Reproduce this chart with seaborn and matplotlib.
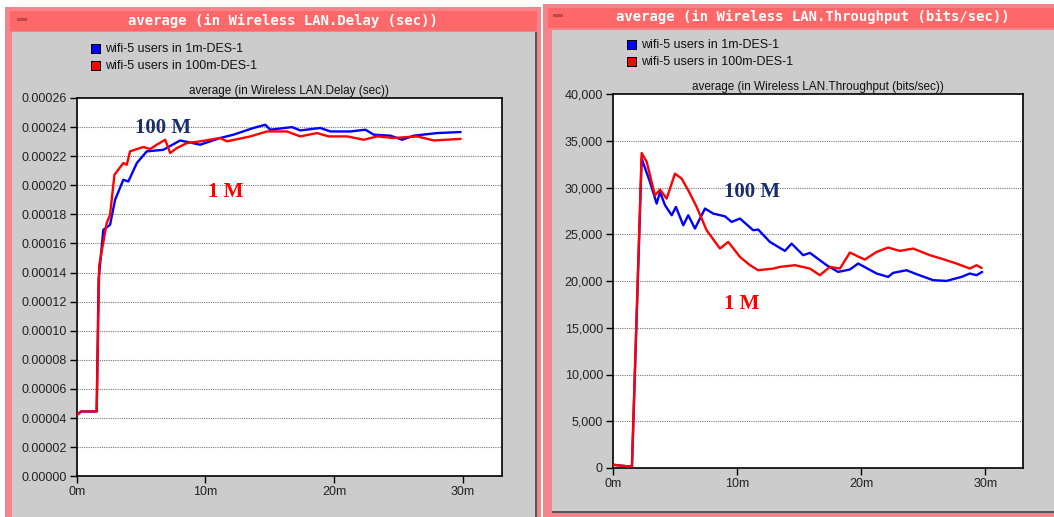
import numpy as np
import pandas as pd
import matplotlib
matplotlib.use("Agg")
import matplotlib.pyplot as plt
from matplotlib.patches import Rectangle
from matplotlib.ticker import FuncFormatter
import seaborn as sns

sns.set_theme(style="white")
plt.rcParams['font.family'] = ['Liberation Sans', 'DejaVu Sans']

# ---- data (time in minutes) ----
series_names = ["wifi-5 users in 1m-DES-1", "wifi-5 users in 100m-DES-1"]

delay_1m_t = [0, 0.35, 1.55, 1.7, 2.07, 2.59, 2.98, 3.62, 4.01, 4.67, 5.44, 6.73, 8.03,
              9.59, 11.14, 12.18, 13.73, 14.64, 15.03, 16.72, 17.36, 18.92, 19.70, 21.25,
              22.42, 23.06, 24.36, 25.27, 26.17, 27.99, 29.81]
delay_1m = [4.2e-5, 4.45e-5, 4.45e-5, 1.35e-4, 1.694e-4, 1.728e-4, 1.900e-4, 2.038e-4,
            2.026e-4, 2.153e-4, 2.233e-4, 2.244e-4, 2.308e-4, 2.279e-4, 2.325e-4, 2.348e-4,
            2.394e-4, 2.416e-4, 2.382e-4, 2.400e-4, 2.377e-4, 2.394e-4, 2.370e-4, 2.370e-4,
            2.382e-4, 2.348e-4, 2.341e-4, 2.313e-4, 2.341e-4, 2.359e-4, 2.366e-4]

delay_100m_t = [0, 0.35, 1.55, 1.75, 2.33, 2.59, 2.93, 3.62, 3.89, 4.14, 4.67, 5.18, 5.7,
                6.22, 6.87, 7.26, 7.78, 8.55, 9.59, 11.14, 11.66, 13.48, 14.77, 16.33, 17.36,
                18.66, 19.56, 21.0, 22.29, 23.33, 24.62, 26.44, 27.73, 29.81]
delay_100m = [4.2e-5, 4.45e-5, 4.45e-5, 1.45e-4, 1.740e-4, 1.797e-4, 2.072e-4, 2.153e-4,
              2.141e-4, 2.233e-4, 2.249e-4, 2.263e-4, 2.249e-4, 2.279e-4, 2.313e-4, 2.222e-4,
              2.256e-4, 2.290e-4, 2.302e-4, 2.325e-4, 2.302e-4, 2.336e-4, 2.370e-4, 2.370e-4,
              2.336e-4, 2.359e-4, 2.336e-4, 2.336e-4, 2.313e-4, 2.336e-4, 2.325e-4, 2.336e-4,
              2.308e-4, 2.319e-4]

thr_1m_t = [0, 1.4, 1.55, 2.33, 3.0, 3.54, 3.81, 4.21, 4.75, 5.09, 5.68, 6.08, 6.62, 7.43,
            8.09, 9.03, 9.57, 10.24, 11.31, 11.71, 12.65, 13.86, 14.4, 15.33, 15.87, 17.22,
            18.15, 19.09, 19.76, 21.24, 22.17, 22.57, 23.65, 24.46, 25.79, 26.87, 28.08,
            28.74, 29.28, 29.74]
thr_1m = [350, 150, 200, 33087, 30590, 28280, 29520, 28100, 27030, 27920, 25960, 27030,
          25610, 27750, 27210, 26920, 26320, 26680, 25430, 25500, 24180, 23220, 24000,
          22760, 23010, 21690, 20970, 21230, 21870, 20800, 20440, 20870, 21150, 20730,
          20090, 20010, 20440, 20800, 20620, 20970]

thr_100m_t = [0, 1.4, 1.55, 2.33, 2.74, 3.40, 3.81, 4.34, 5.01, 5.55, 6.08, 6.76, 7.56, 8.63,
              9.30, 10.24, 11.05, 11.71, 12.92, 13.46, 14.67, 15.87, 16.67, 17.48, 18.29,
              19.09, 20.29, 21.24, 22.17, 23.11, 24.18, 25.53, 26.6, 27.67, 28.74, 29.28, 29.69]
thr_100m = [350, 150, 200, 33690, 32724, 29167, 29772, 28810, 31480, 30950, 29700, 27920,
            25430, 23470, 24180, 22580, 21690, 21150, 21330, 21510, 21690, 21330, 20620,
            21510, 21330, 23040, 22290, 23110, 23580, 23220, 23470, 22760, 22330, 21870,
            21330, 21690, 21400]

delay_ticks = [i * 0.00002 for i in range(14)]
thr_ticks = [i * 5000 for i in range(9)]
time_ticks = [0, 10, 20, 30]
time_labels = ["0m", "10m", "20m", "30m"]

palette = {series_names[0]: "#0000ff", series_names[1]: "#ff0000"}

delay_df = pd.concat([
    pd.DataFrame({"t": delay_1m_t, "v": delay_1m, "s": series_names[0]}),
    pd.DataFrame({"t": delay_100m_t, "v": delay_100m, "s": series_names[1]}),
])
thr_df = pd.concat([
    pd.DataFrame({"t": thr_1m_t, "v": thr_1m, "s": series_names[0]}),
    pd.DataFrame({"t": thr_100m_t, "v": thr_100m, "s": series_names[1]}),
])

W, H = 1054, 517
fig = plt.figure(figsize=(W / 100, H / 100), dpi=100, facecolor="white")


def frac(x0, y0, x1, y1):
    return [x0 / W, 1 - y1 / H, (x1 - x0) / W, (y1 - y0) / H]


def box(x0, y0, x1, y1, color, z=-5):
    r = frac(x0, y0, x1, y1)
    fig.patches.append(Rectangle((r[0], r[1]), r[2], r[3], transform=fig.transFigure,
                                 facecolor=color, edgecolor="none", zorder=z))


# window frames
pink, bar, gray = "#f4848c", "#ff6868", "#cccccc"
box(5, 7, 541, 517, pink)
box(10, 11, 537, 31, bar)
box(12, 32, 535, 517, gray)
box(535, 32, 537, 517, "#555555")
box(543, 4, 1054, 517, pink)
box(548, 8, 1054, 28, bar)
box(552, 30, 1054, 512, gray)
box(552, 511, 1054, 513, "#555555")
# title bar buttons
box(17, 18, 27, 21, "#c04848")
box(553, 14, 563, 17, "#c04848")

fig.text(283 / W, 1 - 21 / H, "average (in Wireless LAN.Delay (sec))", color="white",
         fontsize=10, fontweight="bold", family="DejaVu Sans Mono", ha="center", va="center")
fig.text(813 / W, 1 - 17 / H, "average (in Wireless LAN.Throughput (bits/sec))", color="white",
         fontsize=10, fontweight="bold", family="DejaVu Sans Mono", ha="center", va="center")

# legends
for (sx, sy, tx) in [(92, 49, 105), (628, 45, 641)]:
    for i, name in enumerate(series_names):
        y = sy + i * 17
        box(sx - 1, y - 5, sx + 9, y + 5, "black", z=-4)
        box(sx, y - 4, sx + 8, y + 4, palette[name], z=-3)
        fig.text(tx / W, 1 - y / H, name, fontsize=9, color="#111111", va="center", ha="left")


def style_axes(ax, ticks, fmt, title):
    ax.set_zorder(5)
    ax.set_facecolor("white")
    ax.set_xlim(0, 33)
    ax.set_ylim(ticks[0], ticks[-1])
    ax.set_yticks(ticks)
    ax.yaxis.set_major_formatter(FuncFormatter(fmt))
    ax.set_xticks(time_ticks)
    ax.set_xticklabels(time_labels)
    ax.set_xlabel("")
    ax.set_ylabel("")
    ax.tick_params(axis="both", direction="out", length=5, width=1, colors="black",
                   labelsize=9, labelcolor="#222222", left=True, bottom=True, pad=2)
    for y in ticks[1:-1]:
        ax.axhline(y, color="#777777", lw=0.8, ls=(0, (1, 1)), zorder=0.5)
    for sp in ax.spines.values():
        sp.set_color("black")
        sp.set_linewidth(1.2)
        sp.set_visible(True)
    ax.set_title(title, fontsize=8.5, color="#111111", pad=3)


ax1 = fig.add_axes(frac(76.7, 98, 501.7, 476.2))
sns.lineplot(data=delay_df, x="t", y="v", hue="s", hue_order=series_names, palette=palette,
             linewidth=1.7, legend=False, ax=ax1, zorder=3)
style_axes(ax1, delay_ticks, lambda v, p: f"{v:.5f}", "average (in Wireless LAN.Delay (sec))")
ax1.text(6.7, 0.0002396, "100 M", color="#1a2e6e", fontsize=15, fontweight="bold",
         family="Liberation Serif", ha="center", va="center")
ax1.text(11.6, 0.0001956, "1 M", color="#ff0000", fontsize=15, fontweight="bold",
         family="Liberation Serif", ha="center", va="center")

ax2 = fig.add_axes(frac(612.7, 94, 1022.7, 468))
sns.lineplot(data=thr_df, x="t", y="v", hue="s", hue_order=series_names, palette=palette,
             linewidth=1.7, legend=False, ax=ax2, zorder=3)
style_axes(ax2, thr_ticks, lambda v, p: f"{int(v):,}", "average (in Wireless LAN.Throughput (bits/sec))")
ax2.text(11.2, 29490, "100 M", color="#1a2e6e", fontsize=15, fontweight="bold",
         family="Liberation Serif", ha="center", va="center")
ax2.text(10.4, 17520, "1 M", color="#ff0000", fontsize=15, fontweight="bold",
         family="Liberation Serif", ha="center", va="center")

fig.savefig("out.png", dpi=100, facecolor="white")
